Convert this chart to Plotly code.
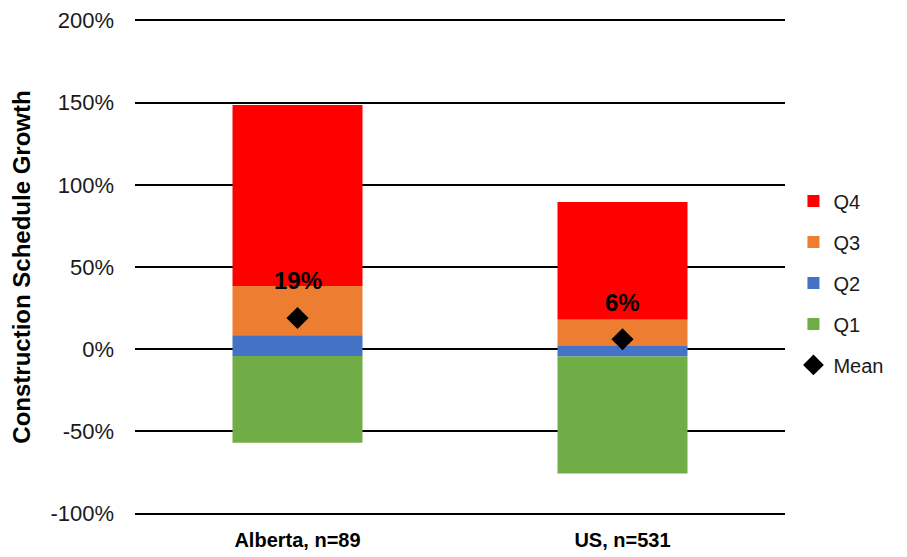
import plotly.graph_objects as go

# quartile boundaries (percent)
regions = ["Alberta, n=89", "US, n=531"]
q_min = [-56.9, -75.6]
q1_top = [-4.1, -4.4]
q2_top = [8.5, 2.0]
q3_top = [38.4, 17.9]
q4_top = [148.6, 89.6]
mean_vals = [19, 6]
mean_labels = ["19%", "6%"]
y_ticks = [-100, -50, 0, 50, 100, 150, 200]
y_tick_text = ["-100%", "-50%", "0%", "50%", "100%", "150%", "200%"]

colors = {"Q1": "#70AD47", "Q2": "#4472C4", "Q3": "#ED7D31", "Q4": "#FF0000"}

segments = {
    "Q4": (q3_top, q4_top),
    "Q3": (q2_top, q3_top),
    "Q2": (q1_top, q2_top),
    "Q1": (q_min, q1_top),
}

FONT = "Liberation Sans, Arial, sans-serif"

fig = go.Figure()

for name, (lo, hi) in segments.items():
    fig.add_trace(go.Bar(
        x=regions,
        y=[h - l for l, h in zip(lo, hi)],
        base=lo,
        name=name,
        legendgroup=name,
        marker=dict(color=colors[name], line=dict(width=0)),
        width=0.4,
    ))

fig.add_trace(go.Scatter(
    x=regions,
    y=mean_vals,
    mode="markers",
    name="Mean",
    legendgroup="Mean",
    marker=dict(symbol="diamond", color="black", size=17),
))

# mean value labels sit above the diamonds
for reg, val, lab in zip(regions, mean_vals, mean_labels):
    fig.add_annotation(
        x=reg, y=val, text=f"<b>{lab}</b>", showarrow=False,
        yanchor="middle", yshift=37,
        font=dict(family=FONT, size=24, color="black"),
    )

# page body adds an 8px offset, so the figure is sized a bit smaller than the window
fig.update_layout(
    width=891,
    height=549,
    margin=dict(l=127, r=112, t=10, b=41),
    paper_bgcolor="white",
    plot_bgcolor="white",
    barmode="overlay",
    font=dict(family=FONT, size=20, color="#1a1a1a"),
    showlegend=True,
    legend=dict(
        x=1.013, y=0.468, yanchor="middle", xanchor="left",
        tracegroupgap=12,
        font=dict(size=20, color="#1a1a1a"),
        itemwidth=30,
    ),
    xaxis=dict(
        showgrid=False,
        showline=False,
        ticks="",
        automargin=False,
        ticklabelstandoff=10,
        tickfont=dict(size=20, color="black", weight="bold"),
    ),
    yaxis=dict(
        range=[-101.5, 201.5],
        tickvals=y_ticks,
        ticktext=y_tick_text,
        showgrid=True,
        gridcolor="black",
        gridwidth=1.6,
        zeroline=True,
        zerolinecolor="black",
        zerolinewidth=1.6,
        showline=False,
        ticks="",
        automargin=False,
        ticklabelstandoff=20,
        tickfont=dict(size=22, color="#1a1a1a"),
        title=dict(text="<b>Construction Schedule Growth</b>", font=dict(size=24, color="black")),
    ),
)

fig.write_html("out.html")
